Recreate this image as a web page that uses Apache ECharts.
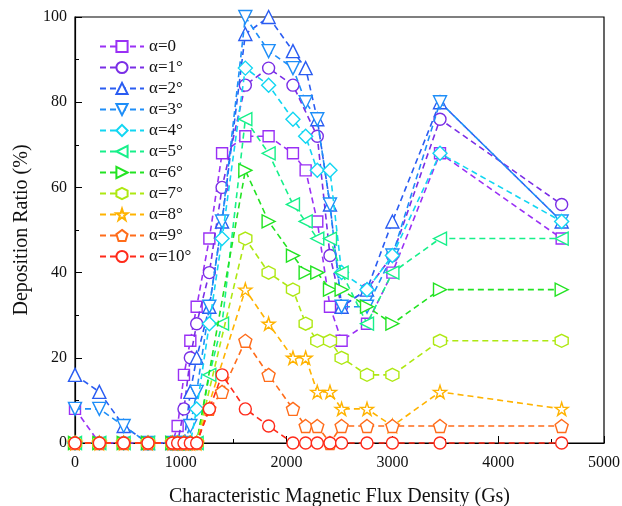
<!DOCTYPE html>
<html><head><meta charset="utf-8">
<script src="https://cdn.jsdelivr.net/npm/echarts@6/dist/echarts.min.js"></script>
<style>html,body{margin:0;padding:0;background:#fff}#c{width:622px;height:506px}</style>
</head><body><div id="c"></div>
<script>
// ---- data ----
const seriesNames = ['α=0','α=1°','α=2°','α=3°','α=4°','α=5°','α=6°','α=7°','α=8°','α=9°','α=10°'];
const xLow  = [0, 230, 460, 690, 920, 970, 1030, 1090, 1150];
const xHigh = [1270, 1390, 1610, 1830, 2060, 2180, 2290, 2410, 2520, 2760, 3000, 3450, 4600];
const xHighNo2180 = [1270, 1390, 1610, 1830, 2060, 2290, 2410, 2520, 2760, 3000, 3450, 4600];
const xHighLate = [1610, 1830, 2060, 2180, 2290, 2410, 2520, 2760, 3000, 3450, 4600];

const yA0  = [8,0,0,0,0,4,16,24,32,   48,68,72,72,68,64,52,32,24,28,40,68,48];
const yA1  = [0,0,0,0,0,0,8,20,28,    40,60,84,88,84,72,44,32,36,44,76,56];
const yA2  = [16,12,4,0,0,0,0,12,20,  32,52,96,100,92,88,76,56,32,36,52,80,52];
const yA3  = [8,8,4,0,0,0,0,4,12,     32,52,100,92,88,80,76,56,32,32,44,80,52];
const yA4  = [0,0,0,0,0,0,0,0,8,      28,48,88,84,76,72,64,64,40,36,44,68,52];
const yA5  = [0,0,0,0,0,0,0,0,0,      16,28,76,68,56,52,48,48,40,28,40,48,48];
const yA6  = [0,0,0,0,0,0,0,0,0,      64,52,44,40,40,36,36,32,28,36,36];
const yA7  = [0,0,0,0,0,0,0,0,0,      48,40,36,28,24,24,20,16,16,24,24];
const yA8  = [0,0,0,0,0,0,0,0,0,      36,28,20,20,12,12,8,8,4,12,8];
const yA9  = [0,0,0,0,0,0,0,0,0,      8,12,24,16,8,4,4,0,4,4,4,4,4];
const yA10 = [0,0,0,0,0,0,0,0,0,      8,16,8,4,0,0,0,0,0,0,0,0,0];

const xTicks = [0,1000,2000,3000,4000,5000];
const yTicks = [0,20,40,60,80,100];

// ---- styling ----
const colors = ['#9a30f5','#7a2ee6','#2a5cf2','#1e8ef8','#12d6f2','#16f08a','#22e322','#aee812','#ffb300','#ff6c1a','#ff2a1a'];
const star = 'path://M50,0 L61.2,34.5 L97.6,34.5 L68.2,55.9 L79.4,90.5 L50,69.1 L20.6,90.5 L31.8,55.9 L2.4,34.5 L38.8,34.5 Z';
const pent = 'path://M50,0 L97.6,34.5 L79.4,90.5 L20.6,90.5 L2.4,34.5 Z';
const hexa = 'path://M50,0 L93.3,25 L93.3,75 L50,100 L6.7,75 L6.7,25 Z';
const symbols = [
  ['rect',11,0],['circle',12,0],['triangle',13,0],['triangle',13,180],['diamond',14,0],
  ['triangle',13,90],['triangle',13,-90],[hexa,13,0],[star,13,0],[pent,13,0],['circle',12,0]
];
const xsList = [
  xLow.concat(xHigh), xLow.concat(xHighNo2180), xLow.concat(xHigh), xLow.concat(xHigh),
  xLow.concat(xHigh), xLow.concat(xHigh), xLow.concat(xHighLate), xLow.concat(xHighLate),
  xLow.concat(xHighLate), xLow.concat(xHigh), xLow.concat(xHigh)
];
const ysList = [yA0,yA1,yA2,yA3,yA4,yA5,yA6,yA7,yA8,yA9,yA10];

const series = seriesNames.map((n,i)=>({
  name:n, type:'line',
  data: xsList[i].map((x,j)=>[x, ysList[i][j]]),
  symbol: symbols[i][0], symbolSize: symbols[i][1], symbolRotate: symbols[i][2],
  showAllSymbol:true,
  lineStyle:{color:colors[i], width:1.6, type:[6,4]},
  itemStyle:{color:'#fff', borderColor:colors[i], borderWidth:1.4},
  clip:false,
  z: 5+i
}));

const font = 'Liberation Serif';
const chart = echarts.init(document.getElementById('c'), null, {renderer:'canvas'});
chart.setOption({
  animation:false,
  grid:{left:75, right:18, top:17, bottom:63, outerBoundsMode:'none', containLabel:false,
        show:true, borderColor:'#000', borderWidth:1.2, backgroundColor:'transparent'},
  legend:{
    orient:'vertical', left:94, top:33, itemWidth:44, itemHeight:14, itemGap:4,
    data: seriesNames,
    textStyle:{fontFamily:font, fontSize:17, color:'#111'}
  },
  xAxis:{
    type:'value', min:0, max:5000, interval:1000,
    name:'Characteristic Magnetic Flux Density (Gs)', nameLocation:'middle', nameGap:44,
    nameTextStyle:{fontFamily:font, fontSize:20, color:'#111'},
    axisLine:{show:true, lineStyle:{color:'#000', width:1.2}},
    axisTick:{show:true, inside:true, length:7, lineStyle:{color:'#000'}},
    minorTick:{show:true, splitNumber:2, length:4, lineStyle:{color:'#000'}},
    splitLine:{show:false},
    axisLabel:{fontFamily:font, fontSize:16, color:'#111', margin:12,
      formatter:v=> xTicks.includes(v)? String(v):''}
  },
  yAxis:{
    type:'value', min:0, max:100, interval:20,
    name:'Deposition Ratio (%)', nameLocation:'middle', nameGap:40, nameRotate:90,
    nameTextStyle:{fontFamily:font, fontSize:20, color:'#111'},
    axisLine:{show:true, lineStyle:{color:'#000', width:1.2}},
    axisTick:{show:true, inside:true, length:7, lineStyle:{color:'#000'}},
    minorTick:{show:true, splitNumber:2, length:4, lineStyle:{color:'#000'}},
    splitLine:{show:false},
    axisLabel:{fontFamily:font, fontSize:16, color:'#111', margin:8,
      formatter:v=> yTicks.includes(v)? String(v):''}
  },
  series: series
});
</script></body></html>
